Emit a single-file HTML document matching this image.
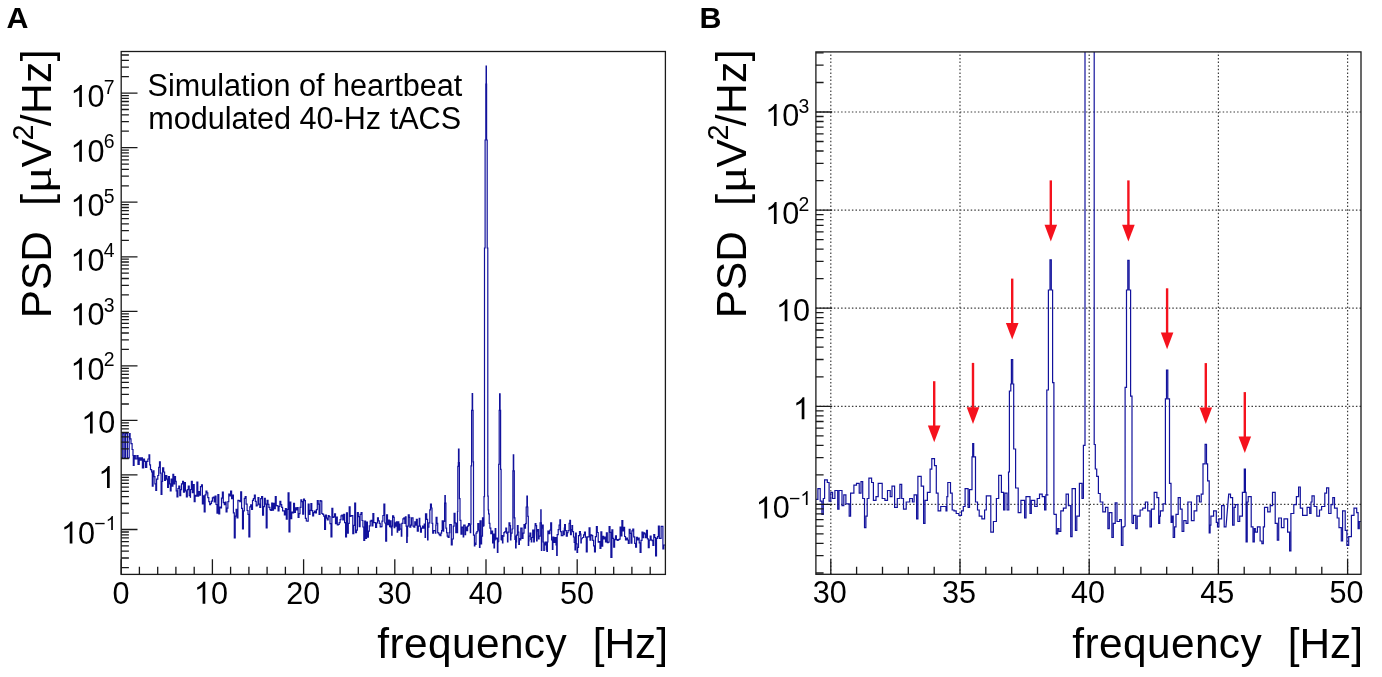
<!DOCTYPE html>
<html><head><meta charset="utf-8"><title>PSD of heartbeat modulated 40-Hz tACS</title>
<style>html,body{margin:0;padding:0;background:#fff;}svg{display:block;will-change:transform;}body{font-family:"Liberation Sans",sans-serif;width:1382px;height:677px;overflow:hidden;}</style></head>
<body>
<svg width="1382" height="677" viewBox="0 0 1382 677">
<rect width="1382" height="677" fill="#fff"/>
<defs><clipPath id="ca"><rect x="121.2" y="51.5" width="544.2" height="522.9"/></clipPath><clipPath id="cb"><rect x="815.9" y="51.9" width="545.1" height="522.4"/></clipPath></defs>
<path d="M830.8 574.3V51.9M960 574.3V51.9M1089.2 574.3V51.9M1218.4 574.3V51.9M1347.6 574.3V51.9M815.9 504.4H1361M815.9 406.3H1361M815.9 308.2H1361M815.9 210.1H1361M815.9 112H1361" fill="none" stroke="#3c3c3c" stroke-width="1.2" stroke-dasharray="1.5 2.1"/>
<g clip-path="url(#ca)"><path d="M121.2 457.8L122.7 457.8L122.7 433.6L124.2 433.6L124.2 457.8L125.6 457.8L125.6 433.6L127.4 433.6L127.4 457.8L129.2 457.8L129.2 433.6L130.1 433.6L130.1 438.9L131 438.9L131 443.6L132.1 443.6L132.1 449.5L133 449.5L133 455.5L133.3 455.5L133.3 465.5L134.1 465.5L134.1 455.5L135.3 455.5L135.3 459L136.9 459L136.9 455.5L138 455.5L138 464.3L139.2 464.3L139.2 457.8L140.4 457.8L140.4 460.2L141.6 460.2L141.6 457.8L142.4 457.8L142.4 467.9L143.6 467.9L143.6 459L144.5 459L144.5 461.4L145.5 461.4L145.5 467.3L146.7 467.3L146.7 461.4L147.9 461.4L147.9 459L149 459L149 454.9L149.7 454.9L149.7 464.9L150.5 464.9L150.5 469.6L151.6 469.6L151.6 472L152.3 472L152.3 486.2L153.1 486.2L153.1 470.8L154 470.8L154 476.7L154.9 476.7L154.9 483.8L155.8 483.8L155.8 490.3L156.6 490.3L156.6 479.1L157.8 479.1L157.8 475.5L158.7 475.5L158.7 467.3L159.5 467.3L159.5 461.9L160.3 461.9L160.3 473.2L161.1 473.2L161.1 494.4L161.9 494.4L161.9 481.4L162.6 481.4L162.6 467.9L163.7 467.9L163.7 472L164.6 472L164.6 480.3L165.6 480.3L165.6 475.5L166.8 475.5L166.8 479.1L167.6 479.1L167.6 487.4L168.4 487.4L168.4 476.7L169.4 476.7L169.4 483.8L170.3 483.8L170.3 490.9L171.1 490.9L171.1 479.1L172.1 479.1L172.1 486.2L172.9 486.2L172.9 474.4L173.7 474.4L173.7 483.8L174.7 483.8L174.7 476.7L175.5 476.7L175.5 481.4L176.2 481.4L176.2 490.9L177 490.9L177 496.8L177.9 496.8L177.9 488.5L178.8 488.5L178.8 486.2L179.8 486.2L179.8 495.6L180.7 495.6L180.7 489.7L181.5 489.7L181.5 483.8L182.6 483.8L182.6 481.4L183.5 481.4L183.5 492.1L184.5 492.1L184.5 482.6L185.4 482.6L185.4 490.9L186.4 490.9L186.4 496.8L187.3 496.8L187.3 489.7L188.3 489.7L188.3 486.2L189.2 486.2L189.2 495.6L190.2 495.6L190.5 497.8L190.5 489.5L191.4 489.5L191.4 481.3L192.3 481.3L192.3 492.6L193.2 492.6L193.2 484.7L194.2 484.7L194.2 501.6L195.1 501.6L195.1 495.3L196 495.3L196 496.2L196.9 496.2L196.9 482L197.8 482L197.8 496.2L198.7 496.2L198.7 491.7L199.6 491.7L199.6 495.1L200.5 495.1L200.5 486.7L201.5 486.7L201.5 484.9L202.4 484.9L202.4 503.8L203.3 503.8L203.3 495.8L204.2 495.8L204.2 512L205.1 512L205.1 494.9L206 494.9L206 491.1L206.9 491.1L206.9 492.8L207.8 492.8L207.8 497.6L208.8 497.6L208.8 501.7L209.7 501.7L209.7 504.7L210.6 504.7L210.6 503.5L211.5 503.5L211.5 501.2L212.4 501.2L212.4 497.8L213.3 497.8L213.3 497L214.2 497L214.2 501.8L215.1 501.8L215.1 496.2L216 496.2L216 504.5L217 504.5L217 513.2L217.9 513.2L217.9 494.7L218.8 494.7L218.8 513.8L219.7 513.8L219.7 507.2L220.6 507.2L220.6 507.9L221.5 507.9L221.5 498.2L222.4 498.2L222.4 492L223.3 492L223.3 502.7L224.3 502.7L224.3 504.6L225.2 504.6L225.2 502.1L226.1 502.1L226.1 512L227 512L227 508.2L227.9 508.2L227.9 501.7L228.8 501.7L228.8 494L229.7 494L229.7 495.8L230.6 495.8L230.6 491L231.6 491L231.6 498.7L232.5 498.7L232.5 495.1L233.4 495.1L233.4 512.9L234.3 512.9L234.3 538L235.2 538L235.2 516.1L236.1 516.1L236.1 509.3L237 509.3L237 517.9L237.9 517.9L237.9 500.4L238.8 500.4L238.8 500.7L239.8 500.7L239.8 501.6L240.7 501.6L240.7 491.9L241.6 491.9L241.6 508.4L242.5 508.4L242.5 529L243.4 529L243.4 510.8L244.3 510.8L244.3 498.3L245.2 498.3L245.2 496.5L246.1 496.5L246.1 504.1L247.1 504.1L247.1 510.5L248 510.5L248 514.3L248.9 514.3L248.9 537L249.8 537L249.8 506.8L250.7 506.8L250.7 504.8L251.6 504.8L251.6 509.5L252.5 509.5L252.5 500.3L253.4 500.3L253.4 498.6L254.4 498.6L254.4 495L255.3 495L255.3 501.3L256.2 501.3L256.2 505.9L257.1 505.9L257.1 505L258 505L258 497.6L258.9 497.6L258.9 504.1L259.8 504.1L259.8 507.3L260.7 507.3L260.7 498.7L261.6 498.7L261.6 496.6L262.6 496.6L262.6 515.2L263.5 515.2L263.5 506.6L264.4 506.6L264.4 498.4L265.3 498.4L265.3 504.1L266.2 504.1L266.2 528L267.1 528L267.1 500.3L268 500.3L268 504.3L268.9 504.3L268.9 507.4L269.9 507.4L269.9 509.6L270.8 509.6L270.8 510.5L271.7 510.5L271.7 503.2L272.6 503.2L272.6 510.2L273.5 510.2L273.5 503.3L274.4 503.3L274.4 508.7L275.3 508.7L275.3 496.5L276.2 496.5L276.2 505.7L277.2 505.7L277.2 505.9L278.1 505.9L278.1 510.8L279 510.8L279 506.5L279.9 506.5L279.9 501.4L280.8 501.4L280.8 504.6L281.7 504.6L281.7 507.3L282.6 507.3L282.6 511L283.5 511L283.5 510.8L284.4 510.8L284.4 514.9L285.4 514.9L285.4 508.5L286.3 508.5L286.3 519.2L287.2 519.2L287.2 509.3L288.1 509.3L288.1 492.9L289 492.9L289 532L289.9 532L289.9 502L290.8 502L290.8 518.6L291.7 518.6L291.7 512.1L292.7 512.1L292.7 512.9L293.6 512.9L293.6 503.3L294.5 503.3L294.5 512.5L295.4 512.5L295.4 507.9L296.3 507.9L296.3 510L297.2 510L297.2 507.5L298.1 507.5L298.1 517.5L299 517.5L299 513.7L300 513.7L300 507.4L300.9 507.4L300.9 499.8L301.8 499.8L301.8 501.6L302.7 501.6L302.7 514.2L303.6 514.2L303.6 499L304.5 499L304.5 500.6L305.4 500.6L305.4 518.3L306.3 518.3L306.3 521L307.2 521L307.2 521.2L308.2 521.2L308.2 504L309.1 504L309.1 514.5L310 514.5L310 510.3L310.9 510.3L310.9 503.6L311.8 503.6L311.8 510.6L312.7 510.6L312.7 516L313.6 516L313.6 512.7L314.5 512.7L314.5 511.1L315.5 511.1L315.5 513L316.4 513L316.4 509.7L317.3 509.7L317.3 500.7L318.2 500.7L318.2 504.2L319.1 504.2L319.1 514.4L320 514.4L320 500.5L320.9 500.5L320.9 501.2L321.8 501.2L321.8 513.5L322.8 513.5L322.8 514.4L323.7 514.4L323.7 516.1L324.6 516.1L324.6 529.5L325.5 529.5L325.5 515.2L326.4 515.2L326.4 518.2L327.3 518.2L327.3 519.9L328.2 519.9L328.2 515.5L329.1 515.5L329.1 516.6L330 516.6L330 523.7L331 523.7L331 537L331.9 537L331.9 508.3L332.8 508.3L332.8 517.5L333.7 517.5L333.7 516.9L334.6 516.9L334.6 513.8L335.5 513.8L335.5 523.6L336.4 523.6L336.4 517L337.3 517L337.3 524.8L338.3 524.8L338.3 524.3L339.2 524.3L339.2 522.6L340.1 522.6L340.1 519.7L341 519.7L341 515.9L341.9 515.9L341.9 515.1L342.8 515.1L342.8 519.9L343.7 519.9L343.7 514.4L344.6 514.4L344.6 522.7L345.6 522.7L345.6 537L346.5 537L346.5 512.8L347.4 512.8L347.4 533.2L348.3 533.2L348.3 523.3L349.2 523.3L349.2 506.8L350.1 506.8L350.1 516.4L351 516.4L351 515.7L351.9 515.7L351.9 515.7L352.8 515.7L352.8 533.6L353.8 533.6L353.8 525.4L354.7 525.4L354.7 503L355.6 503L355.6 532.7L356.5 532.7L356.5 530.1L357.4 530.1L357.4 512.7L358.3 512.7L358.3 516.6L359.2 516.6L359.2 526.7L360.1 526.7L360.1 514.3L361.1 514.3L361.1 512.7L362 512.7L362 520.5L362.9 520.5L362.9 527L363.8 527L363.8 540.5L364.7 540.5L364.7 521.2L365.6 521.2L365.6 538.5L366.5 538.5L366.5 522L367.4 522L367.4 537.1L368.4 537.1L368.4 531.2L369.3 531.2L369.3 525.9L370.2 525.9L370.2 521.1L371.1 521.1L371.1 520.4L372 520.4L372 525.8L372.9 525.8L372.9 513.5L373.8 513.5L373.8 522.7L374.7 522.7L374.7 522.7L375.6 522.7L375.6 527.4L376.6 527.4L376.6 523L377.5 523L377.5 517.8L378.4 517.8L378.4 520.8L379.3 520.8L379.3 523.4L380.2 523.4L380.2 527L381.1 527L381.1 526.6L382 526.6L382 521.1L382.9 521.1L382.9 515.5L383.9 515.5L383.9 504L384.8 504L384.8 523L385.7 523L385.7 541.2L386.6 541.2L386.6 514.8L387.5 514.8L387.5 524.7L388.4 524.7L388.4 520L389.3 520L389.6 526.7L390.2 526.7L390.2 520.8L391.1 520.8L391.1 527.7L391.7 527.7L391.7 535.1L392.1 535.1L392.1 526.2L392.6 526.2L392.6 515.9L393.6 515.9L393.6 517.3L394.2 517.3L394.2 527.7L394.8 527.7L394.8 522.8L395.4 522.8L395.4 526.2L396.3 526.2L396.3 521.8L397.2 521.8L397.2 532.1L397.7 532.1L397.7 521.8L398.8 521.8L398.8 530.2L399.4 530.2L399.4 524.2L400.1 524.2L400.1 529.2L401.3 529.2L401.3 536.1L401.8 536.1L401.8 523.3L402.9 523.3L402.9 518.8L403.9 518.8L403.9 517.8L404.8 517.8L404.8 523.3L405.4 523.3L405.4 516.8L406.1 516.8L406.1 526.2L406.7 526.2L406.7 542.5L407.2 542.5L407.2 536.1L407.6 536.1L407.6 526.2L408.3 526.2L408.3 514.9L409.2 514.9L409.2 517.3L409.8 517.3L409.8 527.2L410.8 527.2L410.8 525.2L411.5 525.2L411.5 517.8L413 517.8L413 526.2L413.9 526.2L413.9 527.2L414.8 527.2L414.8 521.8L415.8 521.8L415.8 525.2L416.4 525.2L416.4 519.3L417.3 519.3L417.3 531.1L418.3 531.1L418.3 526.2L419.2 526.2L419.2 518.3L419.8 518.3L419.8 526.2L420.5 526.2L420.5 532.1L421.4 532.1L421.4 528.2L422.6 528.2L422.6 526.2L423.6 526.2L423.6 528.2L424.2 528.2L424.2 524.2L425.1 524.2L425.1 537.5L425.5 537.5L425.5 513.9L426.7 513.9L426.7 519.3L427.6 519.3L427.6 540L428 540L428 527.2L428.9 527.2L428.9 522.8L429.8 522.8L429.8 509.9L430.5 509.9L430.5 504L431.4 504L431.4 508L432 508L432 523.3L432.7 523.3L432.7 533.1L433.6 533.1L433.6 530.6L435.5 530.6L435.5 533.1L435.8 533.1L435.8 525.2L436.1 525.2L436.1 517.3L437 517.3L437 523.3L437.7 523.3L437.7 532.6L438.3 532.6L438.3 533.1L439.1 533.1L439.1 534.6L440 534.6L440 535.6L440.9 535.6L440.9 533.1L441.6 533.1L441.6 530.6L442.2 530.6L442.2 520.8L443.3 520.8L443.3 531.1L443.7 531.1L443.7 521.3L444.6 521.3L444.6 503.1L444.9 503.1L444.9 495.7L445.3 495.7L445.3 503.1L445.9 503.1L445.9 528.2L446.6 528.2L446.6 532.6L447.2 532.6L447.2 536.1L448.1 536.1L448.1 537.5L449.1 537.5L449.1 532.6L449.7 532.6L449.7 524.7L451.3 524.7L451.3 544.9L452.2 544.9L452.2 539L453.3 539L453.3 526.2L454.1 526.2L454.1 513.4L455 513.4L455 522.8L455.8 522.8L455.8 532.6L456.2 532.6L456.2 523.3L457 523.3L457 532.6L457.6 532.6L457.5 511.5L457.8 511.5L457.8 466.4L458.3 466.4L458.3 462.5L458.5 462.5L458.5 449L459 449L459 462.5L459.4 462.5L459.4 498.7L460 498.7L460 520.4L460.9 520.4L461 534.1L461.9 534.1L461.9 527.2L463.2 527.2L463.2 537L463.7 537L463.7 525.2L465.1 525.2L465.1 534.6L465.6 534.6L465.6 527.2L466.8 527.2L466.8 530.6L467.6 530.6L467.6 526.2L468.5 526.2L468.5 523.7L469.4 523.7L469.4 525.2L470.3 525.2L470.3 532.6L470.7 532.6L470.7 524.2L471.6 524.2L471 524.3L471 465.9L471.6 465.9L471.6 410.3L472.2 410.3L472.2 393.5L472.6 393.5L472.6 410.3L473.1 410.3L473.1 461.8L473.5 461.8L473.5 535.1L473.5 535.1L474.4 535.1L474.4 545.9L474.9 545.9L474.9 543L475.3 543L475.3 544.4L476 544.4L476 533.1L476.9 533.1L476.9 531.6L477.8 531.6L477.8 523.7L478.7 523.7L478.7 530.2L479.5 530.2L479.5 547.4L480 547.4L480 520.8L481.1 520.8L481.1 543.9L481.6 543.9L481.6 536.1L482.5 536.1L482.5 517.8L483.5 517.8L483.5 526.2L484.1 526.2L484 526.2L484 496.6L484.5 496.6L484.5 248L485.1 248L485.1 140L485.8 140L485.8 84L486.1 84L486.1 66L486.4 66L486.4 84L486.6 84L486.6 140L487.2 140L487.2 248L487.8 248L487.8 496.2L488.2 496.2L488.2 509.8L488.6 509.8L488.6 513.9L489.2 513.9L489.2 523.4L489.9 523.4L489.9 528.2L490.8 528.2L490.8 533.6L491.8 533.6L491.8 531.1L492.6 531.1L492.6 543L493.1 543L493.1 534.1L494 534.1L494 547.9L494.5 547.9L494.5 540L495.2 540L495.2 528.7L495.8 528.7L495.8 539L496.8 539L496.8 538L497.4 538L497.4 552.3L497.9 552.3L497.9 542L498.3 542L498.7 541.5L498.7 464.4L499.2 464.4L499.2 410.3L499.6 410.3L499.6 393.8L500.1 393.8L500.1 410.3L500.6 410.3L500.6 469.3L501.1 469.3L501.1 539.8L501.3 540L501.6 540L501.6 535.6L502.5 535.6L502.5 543L502.9 543L502.9 536.1L503.9 536.1L503.9 532.6L504.9 532.6L504.9 531.6L505.8 531.6L505.8 528.2L506.6 528.2L506.6 533.1L507.5 533.1L507.5 542L507.9 542L507.9 532.1L509 532.1L509 522.8L509.9 522.8L509.9 525.7L510.5 525.7L510.5 540L510.9 540L510.9 536.1L511.1 536.1L511.1 533.1L512.1 533.1L512.1 529.2L512.9 529.2L512.9 529.3L512.9 470.8L513.3 470.8L513.3 454.8L513.7 454.8L513.7 470.8L514.3 470.8L514.3 517.8L514.9 517.8L514.9 539.5L515.3 539.5L515.3 536.1L515.6 536.1L515.6 547.9L516.1 547.9L516.1 542L516.6 542L516.6 535.1L517.4 535.1L517.4 525.7L518.1 525.7L518.1 532.1L518.8 532.1L518.8 544.4L519.4 544.4L519.4 538.5L520.2 538.5L520.2 540L520.8 540L520.8 528.2L522.1 528.2L522.1 538.5L523 538.5L523 533.1L524 533.1L524 524.7L524.9 524.7L524.9 528.2L525.5 528.2L525.5 523.7L526.2 523.7L526.2 507L526.9 507L526.9 496.2L527.4 496.2L527.4 507L527.8 507L527.8 516.4L528.3 516.4L528.3 545.4L528.7 545.4L528.7 541L529 541L529 536.1L529.9 536.1L529.9 533.1L530.8 533.1L530.8 539.5L531.3 539.5L531.3 542L531.8 542L531.8 537.5L532.7 537.5L532.7 530.2L533.7 530.2L533.7 542L534.3 542L535.2 523.7L535.9 523.7L535.9 525.7L536.6 525.7L536.6 541L537.1 541L537.1 531.1L537.6 531.1L537.6 529.7L538.5 529.7L538.5 539L539.1 539L539.1 536.1L540.1 536.1L540.1 522.8L540.8 522.8L540.8 509.9L541.1 509.9L541.1 522.8L541.4 522.8L541.4 550.4L541.8 550.4L541.8 528.2L542.1 528.2L542.1 525.2L543.2 525.2L543.2 542L543.8 542L543.8 550.4L544.3 550.4L544.3 543L544.6 543L544.6 544.9L545.4 544.9L545.4 542L546.3 542L546.3 549.9L546.9 549.9L546.9 551.3L547.4 551.3L547.4 542L547.9 542L547.9 531.1L549 531.1L549 533.6L549.9 533.6L549.9 530.2L550.7 530.2L550.7 522.8L551.6 522.8L551.6 540L552.4 540L552.4 549.4L552.9 549.4L552.9 537L553.8 537L553.8 542.5L554.8 542.5L554.8 537.5L556 537.5L556 544.9L556.7 544.9L556.7 555.3L557.2 555.3L557.2 534.6L558.2 534.6L558.2 529.7L559.1 529.7L559.1 525.2L559.9 525.2L559.9 519.8L560.5 519.8L560.5 531.6L561.3 531.6L561.3 535.6L562.9 535.6L562.9 531.1L563.8 531.1L563.8 534.6L564.3 534.6L564.3 528.2L564.6 528.2L564.6 524.7L565.4 524.7L565.4 530.6L566.3 530.6L566.3 536.1L567.3 536.1L567.3 532.6L568 532.6L568 530.6L569.1 530.6L569.1 523.3L569.8 523.3L569.8 520.3L570.5 520.3L570.5 534.6L571.3 534.6L571.3 529.7L572 529.7L572 525.7L572.6 525.7L572.6 531.6L573.5 531.6L573.5 537L574.2 537L574.2 542.5L575 542.5L575 549.9L575.5 549.9L575.5 533.1L576.3 533.1L576.3 543.9L577 543.9L577 552.3L577.6 552.3L577.6 547.4L578.5 547.4L578.5 535.6L579.5 535.6L579.5 531.6L580.4 531.6L580.4 534.1L580.9 534.1L580.9 543L581.3 543L581.3 539L581.9 539L582.7 537.5L583.6 537.5L583.6 534.9L584.5 534.9L584.5 532L585.4 532L585.4 537.2L586.3 537.2L586.3 552L587.2 552L587.2 536.9L588.1 536.9L588.1 537L589.1 537L589.1 527.9L590 527.9L590 540.2L590.9 540.2L590.9 534.9L591.8 534.9L591.8 535.6L592.7 535.6L592.7 540.4L593.6 540.4L593.6 545.8L594.5 545.8L594.5 551.8L595.4 551.8L595.4 536.7L596.4 536.7L596.4 526.5L597.3 526.5L597.3 532.5L598.2 532.5L598.2 542.2L599.1 542.2L599.1 541.7L600 541.7L600 548.3L600.9 548.3L600.9 531.9L601.8 531.9L601.8 546.2L602.7 546.2L602.7 536.4L603.6 536.4L603.6 539L604.6 539L604.6 537.2L605.5 537.2L605.5 542L606.4 542L606.4 532.9L607.3 532.9L607.3 542.7L608.2 542.7L608.2 542.1L609.1 542.1L609.1 526.5L610 526.5L610 532.3L610.9 532.3L610.9 557.5L611.9 557.5L611.9 529.8L612.8 529.8L612.8 538.4L613.7 538.4L613.7 547.2L614.6 547.2L614.6 539.7L615.5 539.7L615.5 535.8L616.4 535.8L616.4 539.6L617.3 539.6L617.3 540.5L618.2 540.5L618.2 539.6L619.2 539.6L619.2 539.2L620.1 539.2L620.1 527.2L621 527.2L621 535.9L621.9 535.9L621.9 520.6L622.8 520.6L622.8 530.8L623.7 530.8L623.7 527.4L624.6 527.4L624.6 536.5L625.5 536.5L625.5 540L626.4 540L626.4 538.2L627.4 538.2L627.4 540L628.3 540L628.3 543.4L629.2 543.4L629.2 529.4L630.1 529.4L630.1 533.3L631 533.3L631 543.2L631.9 543.2L631.9 530.8L632.8 530.8L632.8 529.1L633.7 529.1L633.7 536.8L634.7 536.8L634.7 543.3L635.6 543.3L635.6 547.2L636.5 547.2L636.5 537.4L637.4 537.4L637.4 540L638.3 540L638.3 538L639.2 538L639.2 542.8L640.1 542.8L640.1 552.4L641 552.4L641 540.3L642 540.3L642 532.1L642.9 532.1L642.9 537.7L643.8 537.7L643.8 532.9L644.7 532.9L644.7 533.8L645.6 533.8L645.6 537.7L646.5 537.7L646.5 530.3L647.4 530.3L647.4 538.9L648.3 538.9L648.3 547.6L649.2 547.6L649.2 540.1L650.2 540.1L650.2 536.1L651.1 536.1L651.1 539.9L652 539.9L652 540.7L652.9 540.7L652.9 545.5L653.8 545.5L653.8 534.7L654.7 534.7L654.7 537.5L655.6 537.5L655.6 556L656.5 556L656.5 538.4L657.5 538.4L657.5 536.7L658.4 536.7L658.4 526L659.3 526L659.3 538.4L660.2 538.4L660.2 538.4L661.1 538.4L661.1 526.3L662 526.3L662 526.3L662.9 526.3L662.9 548.8L663.8 548.8L663.8 545L664.8 545L665.4 545" fill="none" stroke="#12129c" stroke-width="1.2" stroke-linejoin="miter"/></g>
<g clip-path="url(#cb)"><path d="M815.9 499.4L817.9 499.4L817.9 488.7L820.2 488.7L820.2 501.1L821.9 501.1L821.9 514.4L823.3 514.4L823.3 498.5L824.6 498.5L824.6 479.9L827.3 479.9L827.3 482.5L829.1 482.5L829.1 501.1L830.8 501.1L830.8 492.3L832.6 492.3L832.6 498.5L834.9 498.5L834.9 490.5L837.7 490.5L837.7 509.1L839 509.1L839 490.5L842 490.5L842 505.6L843.8 505.6L843.8 494.9L845.9 494.9L845.9 503.8L849.2 503.8L849.2 516.2L850.6 516.2L850.6 493.2L853.9 493.2L853.9 485.2L856.5 485.2L856.5 483.4L859.2 483.4L859.2 493.2L861 493.2L861 481.6L862.7 481.6L862.7 498.5L864.5 498.5L864.5 527.7L865.9 527.7L865.9 516.2L867.2 516.2L867.2 498.5L868.9 498.5L868.9 478.1L871.6 478.1L871.6 482.5L873.4 482.5L873.4 500.3L876 500.3L876 496.7L878.2 496.7L878.2 483.4L882.2 483.4L882.2 498.5L884.9 498.5L884.9 500.3L887.5 500.3L887.5 490.5L890.2 490.5L890.2 496.7L892 496.7L892 486.1L894.6 486.1L894.6 507.3L897.3 507.3L897.3 498.5L899.9 498.5L899.9 484.3L901.7 484.3L901.7 498.5L903.5 498.5L903.5 509.1L906.2 509.1L906.2 502L909.7 502L909.7 498.5L912.4 498.5L912.4 502L914.1 502L914.1 494.9L916.6 494.9L916.6 518.9L917.9 518.9L917.9 476.3L921.2 476.3L921.2 486.1L923.6 486.1L923.6 523.3L925 523.3L925 500.3L927.4 500.3L927.4 492.3L930.1 492.3L930.1 469.2L931.8 469.2L931.8 458.6L934.5 458.6L934.5 465.7L936.3 465.7L936.3 493.2L938.1 493.2L938.1 510.9L940.7 510.9L940.7 506.5L946 506.5L946 510.9L946.9 510.9L946.9 496.7L947.8 496.7L947.8 482.5L950.5 482.5L950.5 493.2L952.2 493.2L952.2 510L954 510L954 510.9L956.2 510.9L956.2 513.5L958.9 513.5L958.9 515.3L961.5 515.3L961.5 510.9L963.3 510.9L963.3 506.5L965.1 506.5L965.1 488.7L968.1 488.7L968.1 507.3L969.5 507.3L969.5 489.6L972 489.6L972 456.8L972.7 456.8L972.7 443.5L973.7 443.5L973.7 456.8L975.5 456.8L975.5 502L977.5 502L977.5 510L979.2 510L979.2 516.2L981.9 516.2L981.9 518.9L984.6 518.9L984.6 510L986.3 510L986.3 495.8L990.8 495.8L990.8 532.2L993.4 532.2L993.4 521.5L996.4 521.5L996.4 498.5L998.7 498.5L998.7 475.4L1001.4 475.4L1001.4 492.3L1003.6 492.3L1003.6 510L1004.9 510L1004.9 493.2L1007.1 493.2L1007.1 510L1008.8 510L1008.5 472L1009.4 472L1009.4 391L1010.8 391L1010.8 384L1011.4 384L1011.4 359.6L1012.7 359.6L1012.7 384L1013.7 384L1013.7 449L1015.6 449L1015.6 488L1018.2 488L1018.2 512.7L1020.9 512.7L1020.9 500.3L1024.6 500.3L1024.6 518L1026 518L1026 496.7L1030 496.7L1030 513.5L1031.3 513.5L1031.3 500.3L1034.7 500.3L1034.7 506.5L1037.2 506.5L1037.2 498.5L1039.5 498.5L1039.5 494.1L1042.2 494.1L1042.2 496.7L1044.6 496.7L1044.6 510L1045.9 510L1045.9 494.9L1048.4 494.9L1046.8 495L1046.8 390L1048.4 390L1048.4 290L1050 290L1050 259.8L1051.3 259.8L1051.3 290L1052.6 290L1052.6 382.6L1053.9 382.6L1053.9 514.4L1053.7 514.4L1056.3 514.4L1056.3 533.9L1057.7 533.9L1057.7 528.6L1059 528.6L1059 531.3L1060.8 531.3L1060.8 510.9L1063.4 510.9L1063.4 508.2L1066.1 508.2L1066.1 494.1L1068.4 494.1L1068.4 505.6L1070.7 505.6L1070.7 536.6L1072.1 536.6L1072.1 488.7L1075.4 488.7L1075.4 530.4L1076.8 530.4L1076.8 516.2L1079.4 516.2L1079.4 483.4L1082 483.4L1082 498.5L1083.8 498.5L1083.4 498.5L1083.4 445.3L1085 445.3L1085 46.9L1094.2 46.9L1094.2 444.5L1095.3 444.5L1095.3 469L1096.7 469L1096.7 476.3L1098.4 476.3L1098.4 493.5L1100.2 493.5L1100.2 502L1102.8 502L1102.8 511.8L1105.5 511.8L1105.5 507.3L1107.9 507.3L1107.9 528.6L1109.3 528.6L1109.3 512.7L1111.9 512.7L1111.9 537.5L1113.3 537.5L1113.3 523.3L1115.2 523.3L1115.2 502.9L1117 502.9L1117 521.5L1119.7 521.5L1119.7 519.7L1121.4 519.7L1121.4 545.4L1122.9 545.4L1122.9 526.8L1124.1 526.8L1125.1 526L1125.1 387.3L1126.5 387.3L1126.5 290L1127.8 290L1127.8 260.4L1129.1 260.4L1129.1 290L1130.6 290L1130.6 396.1L1132 396.1L1132 523L1132.4 523.3L1133.5 523.3L1133.5 515.3L1135.8 515.3L1135.8 528.6L1137.2 528.6L1137.2 516.2L1140.1 516.2L1140.1 510L1142.7 510L1142.7 508.2L1145.4 508.2L1145.4 502L1147.7 502L1147.7 510.9L1150 510.9L1150 526.8L1151.4 526.8L1151.4 509.1L1154.2 509.1L1154.2 492.3L1156.9 492.3L1156.9 497.6L1158.7 497.6L1158.7 523.3L1159.7 523.3L1159.7 516.2L1160.4 516.2L1160.4 510.9L1163.1 510.9L1163.1 503.8L1165.4 503.8L1165.4 504L1165.4 398.8L1166.5 398.8L1166.5 370L1167.8 370L1167.8 398.8L1169.5 398.8L1169.5 483.4L1171 483.4L1171.1 522.4L1172.1 522.4L1172.1 516.2L1173.2 516.2L1173.2 537.5L1174.6 537.5L1174.6 526.8L1176 526.8L1176 514.4L1178.2 514.4L1178.2 497.6L1180.3 497.6L1180.3 509.1L1182.1 509.1L1182.1 531.3L1183.8 531.3L1183.8 520.6L1186.1 520.6L1186.1 523.3L1187.9 523.3L1187.9 502L1191.4 502L1191.4 520.6L1194.1 520.6L1194.1 510.9L1196.8 510.9L1196.8 495.8L1199.4 495.8L1199.4 502L1201.2 502L1201.2 494.1L1203 494.1L1203 463.9L1205.1 463.9L1205.1 444.4L1206.5 444.4L1206.5 463.9L1207.6 463.9L1207.6 480.8L1209.2 480.8L1209.2 533L1210.1 533L1210.1 525.1L1210.9 525.1L1210.9 516.2L1213.6 516.2L1213.6 510.9L1216.3 510.9L1216.3 522.4L1217.5 522.4L1217.5 526.8L1218.9 526.8L1218.9 518.9L1221.6 518.9L1221.6 505.6L1224.2 505.6L1224.2 526.8L1226 526.8L1228.7 494.1L1230.5 494.1L1230.5 497.6L1232.6 497.6L1232.6 525.1L1234.1 525.1L1234.1 507.3L1235.3 507.3L1235.3 504.7L1237.9 504.7L1237.9 521.5L1239.7 521.5L1239.7 516.2L1242.4 516.2L1242.4 492.3L1244.3 492.3L1244.3 469.2L1245.4 469.2L1245.4 492.3L1246.1 492.3L1246.1 541.9L1247.2 541.9L1247.2 502L1248.2 502L1248.2 496.7L1251.2 496.7L1251.2 526.8L1253 526.8L1253 541.9L1254.3 541.9L1254.3 528.6L1255.3 528.6L1255.3 532.2L1257.4 532.2L1257.4 526.8L1260.1 526.8L1260.1 541L1261.9 541L1261.9 543.7L1263.3 543.7L1263.3 526.8L1264.5 526.8L1264.5 507.3L1267.7 507.3L1267.7 511.8L1270.2 511.8L1270.2 505.6L1272.5 505.6L1272.5 492.3L1275.2 492.3L1275.2 523.3L1277.3 523.3L1277.3 540.1L1278.7 540.1L1278.7 518L1281.4 518L1281.4 527.7L1284 527.7L1284 518.9L1287.6 518.9L1287.6 532.2L1289.6 532.2L1289.6 550.8L1290.9 550.8L1290.9 513.5L1293.8 513.5L1293.8 504.7L1296.4 504.7L1296.4 496.7L1298.6 496.7L1298.6 487L1300.3 487L1300.3 508.2L1302.6 508.2L1302.6 515.3L1307.1 515.3L1307.1 507.3L1309.7 507.3L1309.7 513.5L1311 513.5L1311 502L1312 502L1312 495.8L1314.2 495.8L1314.2 506.5L1316.8 506.5L1316.8 516.2L1319.5 516.2L1319.5 510L1321.6 510L1321.6 506.5L1324.8 506.5L1324.8 493.2L1326.6 493.2L1326.6 487.8L1328.7 487.8L1328.7 513.5L1331 513.5L1331 504.7L1332.8 504.7L1332.8 497.6L1334.5 497.6L1334.5 508.2L1337.2 508.2L1337.2 518L1339 518L1339 527.7L1341.3 527.7L1341.3 541L1342.6 541L1342.6 510.9L1345.2 510.9L1345.2 530.4L1346.9 530.4L1346.9 545.4L1348.7 545.4L1348.7 536.6L1351.4 536.6L1351.4 515.3L1354 515.3L1354 508.2L1356.7 508.2L1356.7 512.7L1358.1 512.7L1358.1 528.6L1359.3 528.6L1359.3 521.5L1360.9 521.5" fill="none" stroke="#12129c" stroke-width="1.2" stroke-linejoin="miter"/></g>
<g fill="none" stroke="#1a1a1a" stroke-width="1.3">
<rect x="121.2" y="51.5" width="544.2" height="522.9"/>
<rect x="815.9" y="51.9" width="545.1" height="522.4"/>
<path d="M121.2 567.6h7.7M121.2 558h7.7M121.2 551.2h7.7M121.2 545.9h7.7M121.2 541.6h7.7M121.2 537.9h7.7M121.2 534.8h7.7M121.2 532h7.7M121.2 529.5h16.3M121.2 513.1h7.7M121.2 503.5h7.7M121.2 496.7h7.7M121.2 491.4h7.7M121.2 487.1h7.7M121.2 483.4h7.7M121.2 480.2h7.7M121.2 477.4h7.7M121.2 474.9h16.3M121.2 458.5h7.7M121.2 448.9h7.7M121.2 442.1h7.7M121.2 436.8h7.7M121.2 432.5h7.7M121.2 428.8h7.7M121.2 425.7h7.7M121.2 422.9h7.7M121.2 420.4h16.3M121.2 404h7.7M121.2 394.4h7.7M121.2 387.6h7.7M121.2 382.3h7.7M121.2 378h7.7M121.2 374.3h7.7M121.2 371.1h7.7M121.2 368.3h7.7M121.2 365.9h16.3M121.2 349.4h7.7M121.2 339.8h7.7M121.2 333h7.7M121.2 327.7h7.7M121.2 323.4h7.7M121.2 319.7h7.7M121.2 316.6h7.7M121.2 313.8h7.7M121.2 311.3h16.3M121.2 294.9h7.7M121.2 285.3h7.7M121.2 278.5h7.7M121.2 273.2h7.7M121.2 268.9h7.7M121.2 265.2h7.7M121.2 262h7.7M121.2 259.2h7.7M121.2 256.8h16.3M121.2 240.3h7.7M121.2 230.7h7.7M121.2 223.9h7.7M121.2 218.6h7.7M121.2 214.3h7.7M121.2 210.6h7.7M121.2 207.5h7.7M121.2 204.7h7.7M121.2 202.2h16.3M121.2 185.8h7.7M121.2 176.2h7.7M121.2 169.4h7.7M121.2 164.1h7.7M121.2 159.8h7.7M121.2 156.1h7.7M121.2 152.9h7.7M121.2 150.1h7.7M121.2 147.7h16.3M121.2 131.2h7.7M121.2 121.6h7.7M121.2 114.8h7.7M121.2 109.5h7.7M121.2 105.2h7.7M121.2 101.5h7.7M121.2 98.4h7.7M121.2 95.6h7.7M121.2 93.1h16.3M121.2 76.7h7.7M121.2 67.1h7.7M121.2 60.3h7.7M121.2 55h7.7"/>
<path d="M815.9 573h7.7M815.9 555.7h7.7M815.9 543.4h7.7M815.9 533.9h7.7M815.9 526.2h7.7M815.9 519.6h7.7M815.9 513.9h7.7M815.9 508.9h7.7M815.9 504.4h16.3M815.9 474.9h7.7M815.9 457.6h7.7M815.9 445.3h7.7M815.9 435.8h7.7M815.9 428.1h7.7M815.9 421.5h7.7M815.9 415.8h7.7M815.9 410.8h7.7M815.9 406.3h16.3M815.9 376.8h7.7M815.9 359.5h7.7M815.9 347.2h7.7M815.9 337.7h7.7M815.9 330h7.7M815.9 323.4h7.7M815.9 317.7h7.7M815.9 312.7h7.7M815.9 308.2h16.3M815.9 278.7h7.7M815.9 261.4h7.7M815.9 249.1h7.7M815.9 239.6h7.7M815.9 231.9h7.7M815.9 225.3h7.7M815.9 219.6h7.7M815.9 214.6h7.7M815.9 210.1h16.3M815.9 180.6h7.7M815.9 163.3h7.7M815.9 151h7.7M815.9 141.5h7.7M815.9 133.8h7.7M815.9 127.2h7.7M815.9 121.5h7.7M815.9 116.5h7.7M815.9 112h16.3M815.9 82.5h7.7M815.9 65.2h7.7M815.9 52.9h7.7"/>
<path d="M121.2 574.4v-15.2M139.4 574.4v-7.6M157.7 574.4v-7.6M175.9 574.4v-7.6M194.2 574.4v-7.6M212.4 574.4v-15.2M230.6 574.4v-7.6M248.9 574.4v-7.6M267.1 574.4v-7.6M285.4 574.4v-7.6M303.6 574.4v-15.2M321.8 574.4v-7.6M340.1 574.4v-7.6M358.3 574.4v-7.6M376.6 574.4v-7.6M394.8 574.4v-15.2M413 574.4v-7.6M431.3 574.4v-7.6M449.5 574.4v-7.6M467.8 574.4v-7.6M486 574.4v-15.2M504.2 574.4v-7.6M522.5 574.4v-7.6M540.7 574.4v-7.6M559 574.4v-7.6M577.2 574.4v-15.2M595.4 574.4v-7.6M613.7 574.4v-7.6M631.9 574.4v-7.6M650.2 574.4v-7.6"/>
<path d="M830.8 574.3v-15M856.6 574.3v-7.5M882.5 574.3v-7.5M908.3 574.3v-7.5M934.2 574.3v-7.5M960 574.3v-15M985.8 574.3v-7.5M1011.7 574.3v-7.5M1037.5 574.3v-7.5M1063.4 574.3v-7.5M1089.2 574.3v-15M1115 574.3v-7.5M1140.9 574.3v-7.5M1166.7 574.3v-7.5M1192.6 574.3v-7.5M1218.4 574.3v-15M1244.2 574.3v-7.5M1270.1 574.3v-7.5M1295.9 574.3v-7.5M1321.8 574.3v-7.5M1347.6 574.3v-15"/>
</g>
<path d="M934.2 381.2V427.2" stroke="#f5121d" stroke-width="2.4" fill="none"/><path d="M927.9 425.5L940.5 425.5L934.2 442.2Z" fill="#f5121d"/><path d="M973 362.9V408.9" stroke="#f5121d" stroke-width="2.4" fill="none"/><path d="M966.7 407.2L979.3 407.2L973 423.9Z" fill="#f5121d"/><path d="M1012.2 278.6V324.6" stroke="#f5121d" stroke-width="2.4" fill="none"/><path d="M1005.9 322.9L1018.5 322.9L1012.2 339.6Z" fill="#f5121d"/><path d="M1050.8 180.4V226.4" stroke="#f5121d" stroke-width="2.4" fill="none"/><path d="M1044.5 224.7L1057.1 224.7L1050.8 241.4Z" fill="#f5121d"/><path d="M1128.4 180.4V226.4" stroke="#f5121d" stroke-width="2.4" fill="none"/><path d="M1122.1 224.7L1134.7 224.7L1128.4 241.4Z" fill="#f5121d"/><path d="M1167.1 288.3V334.3" stroke="#f5121d" stroke-width="2.4" fill="none"/><path d="M1160.8 332.6L1173.4 332.6L1167.1 349.3Z" fill="#f5121d"/><path d="M1205.8 363.1V409.1" stroke="#f5121d" stroke-width="2.4" fill="none"/><path d="M1199.5 407.4L1212.1 407.4L1205.8 424.1Z" fill="#f5121d"/><path d="M1244.8 392.1V438.1" stroke="#f5121d" stroke-width="2.4" fill="none"/><path d="M1238.5 436.4L1251.1 436.4L1244.8 453.1Z" fill="#f5121d"/>
<g font-family="'Liberation Sans', sans-serif" fill="#000">
<text x="6.5" y="28.3" font-size="30.4" font-weight="bold">A</text>
<text x="699.6" y="28.3" font-size="30.4" font-weight="bold">B</text>
<text x="147.6" y="95.8" font-size="30.6">Simulation of heartbeat</text>
<text x="148.2" y="129.0" font-size="30.6">modulated 40-Hz tACS</text>
<path d="M763 0H583V1147Q518 1085 412.5 1023Q307 961 223 930V1104Q374 1175 487 1276Q600 1377 647 1472H763Z" transform="translate(61 543.5) scale(0.01494 -0.01494)"/>
<text x="78.01" y="543.5" font-size="30.6">0</text>
<text x="94.33" y="530" font-size="19.4">−</text>
<path d="M763 0H583V1147Q518 1085 412.5 1023Q307 961 223 930V1104Q374 1175 487 1276Q600 1377 647 1472H763Z" transform="translate(105.66 530) scale(0.00947 -0.00947)"/>
<path d="M763 0H583V1147Q518 1085 412.5 1023Q307 961 223 930V1104Q374 1175 487 1276Q600 1377 647 1472H763Z" transform="translate(98.29 487.95) scale(0.01494 -0.01494)"/>
<path d="M763 0H583V1147Q518 1085 412.5 1023Q307 961 223 930V1104Q374 1175 487 1276Q600 1377 647 1472H763Z" transform="translate(81.27 433.4) scale(0.01494 -0.01494)"/>
<text x="98.29" y="433.4" font-size="30.6">0</text>
<path d="M763 0H583V1147Q518 1085 412.5 1023Q307 961 223 930V1104Q374 1175 487 1276Q600 1377 647 1472H763Z" transform="translate(70.5 379.85) scale(0.01494 -0.01494)"/>
<text x="87.51" y="379.85" font-size="30.6">0</text>
<text x="103.83" y="366.35" font-size="19.4">2</text>
<path d="M763 0H583V1147Q518 1085 412.5 1023Q307 961 223 930V1104Q374 1175 487 1276Q600 1377 647 1472H763Z" transform="translate(70.5 325.3) scale(0.01494 -0.01494)"/>
<text x="87.51" y="325.3" font-size="30.6">0</text>
<text x="103.83" y="311.8" font-size="19.4">3</text>
<path d="M763 0H583V1147Q518 1085 412.5 1023Q307 961 223 930V1104Q374 1175 487 1276Q600 1377 647 1472H763Z" transform="translate(70.5 270.75) scale(0.01494 -0.01494)"/>
<text x="87.51" y="270.75" font-size="30.6">0</text>
<text x="103.83" y="257.25" font-size="19.4">4</text>
<path d="M763 0H583V1147Q518 1085 412.5 1023Q307 961 223 930V1104Q374 1175 487 1276Q600 1377 647 1472H763Z" transform="translate(70.5 216.2) scale(0.01494 -0.01494)"/>
<text x="87.51" y="216.2" font-size="30.6">0</text>
<text x="103.83" y="202.7" font-size="19.4">5</text>
<path d="M763 0H583V1147Q518 1085 412.5 1023Q307 961 223 930V1104Q374 1175 487 1276Q600 1377 647 1472H763Z" transform="translate(70.5 161.65) scale(0.01494 -0.01494)"/>
<text x="87.51" y="161.65" font-size="30.6">0</text>
<text x="103.83" y="148.15" font-size="19.4">6</text>
<path d="M763 0H583V1147Q518 1085 412.5 1023Q307 961 223 930V1104Q374 1175 487 1276Q600 1377 647 1472H763Z" transform="translate(70.5 107.1) scale(0.01494 -0.01494)"/>
<text x="87.51" y="107.1" font-size="30.6">0</text>
<text x="103.83" y="93.6" font-size="19.4">7</text>
<path d="M763 0H583V1147Q518 1085 412.5 1023Q307 961 223 930V1104Q374 1175 487 1276Q600 1377 647 1472H763Z" transform="translate(755.7 518.4) scale(0.01494 -0.01494)"/>
<text x="772.71" y="518.4" font-size="30.6">0</text>
<text x="789.03" y="504.9" font-size="19.4">−</text>
<path d="M763 0H583V1147Q518 1085 412.5 1023Q307 961 223 930V1104Q374 1175 487 1276Q600 1377 647 1472H763Z" transform="translate(800.36 504.9) scale(0.00947 -0.00947)"/>
<path d="M763 0H583V1147Q518 1085 412.5 1023Q307 961 223 930V1104Q374 1175 487 1276Q600 1377 647 1472H763Z" transform="translate(792.99 419.3) scale(0.01494 -0.01494)"/>
<path d="M763 0H583V1147Q518 1085 412.5 1023Q307 961 223 930V1104Q374 1175 487 1276Q600 1377 647 1472H763Z" transform="translate(775.97 321.2) scale(0.01494 -0.01494)"/>
<text x="792.99" y="321.2" font-size="30.6">0</text>
<path d="M763 0H583V1147Q518 1085 412.5 1023Q307 961 223 930V1104Q374 1175 487 1276Q600 1377 647 1472H763Z" transform="translate(765.2 224.1) scale(0.01494 -0.01494)"/>
<text x="782.21" y="224.1" font-size="30.6">0</text>
<text x="798.53" y="210.6" font-size="19.4">2</text>
<path d="M763 0H583V1147Q518 1085 412.5 1023Q307 961 223 930V1104Q374 1175 487 1276Q600 1377 647 1472H763Z" transform="translate(765.2 126) scale(0.01494 -0.01494)"/>
<text x="782.21" y="126" font-size="30.6">0</text>
<text x="798.53" y="112.5" font-size="19.4">3</text>
<text x="112.39" y="603.7" font-size="30.6">0</text>
<path d="M763 0H583V1147Q518 1085 412.5 1023Q307 961 223 930V1104Q374 1175 487 1276Q600 1377 647 1472H763Z" transform="translate(193.89 603.7) scale(0.01494 -0.01494)"/>
<text x="210.9" y="603.7" font-size="30.6">0</text>
<text x="286.29" y="603.7" font-size="30.6">20</text>
<text x="377.49" y="603.7" font-size="30.6">30</text>
<text x="468.69" y="603.7" font-size="30.6">40</text>
<text x="559.89" y="603.7" font-size="30.6">50</text>
<text x="812.69" y="603.4" font-size="30.6">30</text>
<text x="941.89" y="603.4" font-size="30.6">35</text>
<text x="1071.09" y="603.4" font-size="30.6">40</text>
<text x="1200.29" y="603.4" font-size="30.6">45</text>
<text x="1329.49" y="603.4" font-size="30.6">50</text>
<text x="668.1" y="657.5" font-size="42.4" text-anchor="end">[Hz]</text>
<text x="377.3" y="657.5" font-size="42.4" letter-spacing="0.4">frequency</text>
<text x="1363.1" y="657.5" font-size="42.4" text-anchor="end">[Hz]</text>
<text x="1072.3" y="657.5" font-size="42.4" letter-spacing="0.4">frequency</text>
<text transform="translate(50.9 318.2) rotate(-90)" font-size="42.4">PSD</text>
<text transform="translate(50.9 205.8) rotate(-90)" font-size="42.4">[</text>
<text transform="translate(50.9 193.6) rotate(-90) scale(1.16 1.03)" font-size="44" font-family="'Liberation Serif', serif">μ</text>
<text transform="translate(50.9 167.6) rotate(-90)" font-size="42.4">V</text>
<text transform="translate(32.5 140.6) rotate(-90)" font-size="28.8">2</text>
<text transform="translate(50.9 126.2) rotate(-90)" font-size="42.4" letter-spacing="0.45">/Hz]</text>
<text transform="translate(745.9 318.2) rotate(-90)" font-size="42.4">PSD</text>
<text transform="translate(745.9 205.8) rotate(-90)" font-size="42.4">[</text>
<text transform="translate(745.9 193.6) rotate(-90) scale(1.16 1.03)" font-size="44" font-family="'Liberation Serif', serif">μ</text>
<text transform="translate(745.9 167.6) rotate(-90)" font-size="42.4">V</text>
<text transform="translate(727.5 140.6) rotate(-90)" font-size="28.8">2</text>
<text transform="translate(745.9 126.2) rotate(-90)" font-size="42.4" letter-spacing="0.45">/Hz]</text>
</g>
</svg>
</body></html>
